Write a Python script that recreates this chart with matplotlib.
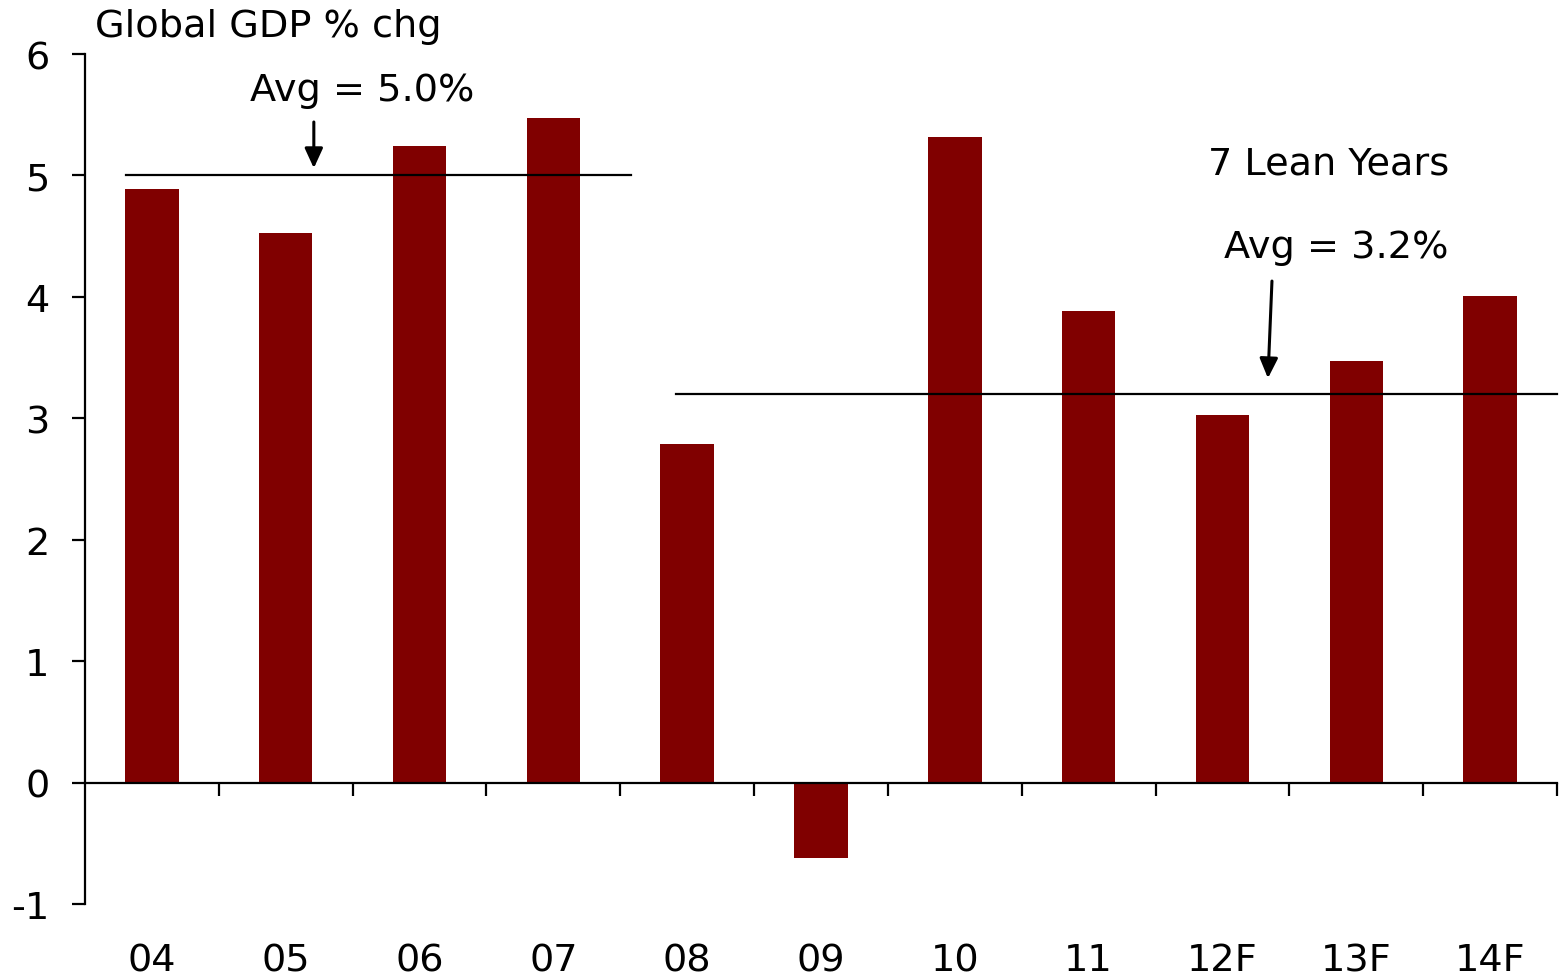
import matplotlib
matplotlib.use("Agg")
import matplotlib.pyplot as plt
import numpy as np

# Global GDP growth by year (% change), F = forecast
years = ["04", "05", "06", "07", "08", "09", "10", "11", "12F", "13F", "14F"]
gdp_growth = [4.89, 4.53, 5.24, 5.47, 2.79, -0.62, 5.32, 3.88, 3.03, 3.47, 4.01]

# Period averages
boom_avg = 5.0
lean_avg = 3.2
y_ticks = [-1, 0, 1, 2, 3, 4, 5, 6]

bar_color = "#800000"
fs = 27.5

plt.rcParams["font.family"] = ["DejaVu Sans"]

fig = plt.figure(figsize=(15.6, 9.78), dpi=100)
ax = fig.add_axes([85 / 1560, 1 - 905 / 978, (1557 - 85) / 1560, (905 - 55) / 978])

x = np.arange(len(years))
ax.bar(x, gdp_growth, width=0.40, color=bar_color, zorder=2)

ax.set_xlim(-0.5, len(years) - 0.5)
ax.set_ylim(-1, 6)

# Spines: left axis full height, horizontal axis sits at zero
for s in ["top", "right"]:
    ax.spines[s].set_visible(False)
ax.spines["bottom"].set_position(("data", 0))
ax.spines["left"].set_linewidth(1.6)
ax.spines["bottom"].set_linewidth(1.6)
ax.spines["bottom"].set_zorder(3)

ax.set_yticks(y_ticks)
ax.set_yticklabels([str(v) for v in y_ticks], fontsize=fs)
ax.tick_params(axis="y", direction="out", length=9.5, width=1.6, pad=16)

# Category labels at bar centres (no tick), separators between categories
ax.set_xticks(x)
ax.set_xticklabels(years, fontsize=fs)
ax.set_xticks(np.arange(len(years)) + 0.5, minor=True)
ax.tick_params(axis="x", which="major", length=0, pad=115)
ax.tick_params(axis="x", which="minor", direction="out", length=9.5, width=1.6)

# Average lines for the two periods
ax.plot([-0.19, 3.58], [boom_avg, boom_avg], color="black", lw=1.6, zorder=4)
ax.plot([3.92, 10.5], [lean_avg, lean_avg], color="black", lw=1.6, zorder=4,
        clip_on=False)

arrow_kw = dict(arrowstyle="-|>,head_width=0.55,head_length=1.2", color="black",
                lw=2.2, shrinkA=0, shrinkB=0)
ax.annotate("", xy=(1.21, 5.06), xytext=(1.21, 5.44), arrowprops=arrow_kw)
ax.annotate("", xy=(8.34, 3.33), xytext=(8.37, 4.13), arrowprops=arrow_kw)

ax.text(1.57, 5.70, f"Avg = {boom_avg:.1f}%", fontsize=fs, ha="center", va="center")
ax.text(8.79, 5.10, "7 Lean Years", fontsize=fs, ha="center", va="center")
ax.text(8.85, 4.41, f"Avg = {lean_avg:.1f}%", fontsize=fs, ha="center", va="center")

fig.text(95 / 1560, 1 - 27 / 978, "Global GDP % chg", fontsize=fs, ha="left", va="center")

fig.savefig("out.png", dpi=100)
